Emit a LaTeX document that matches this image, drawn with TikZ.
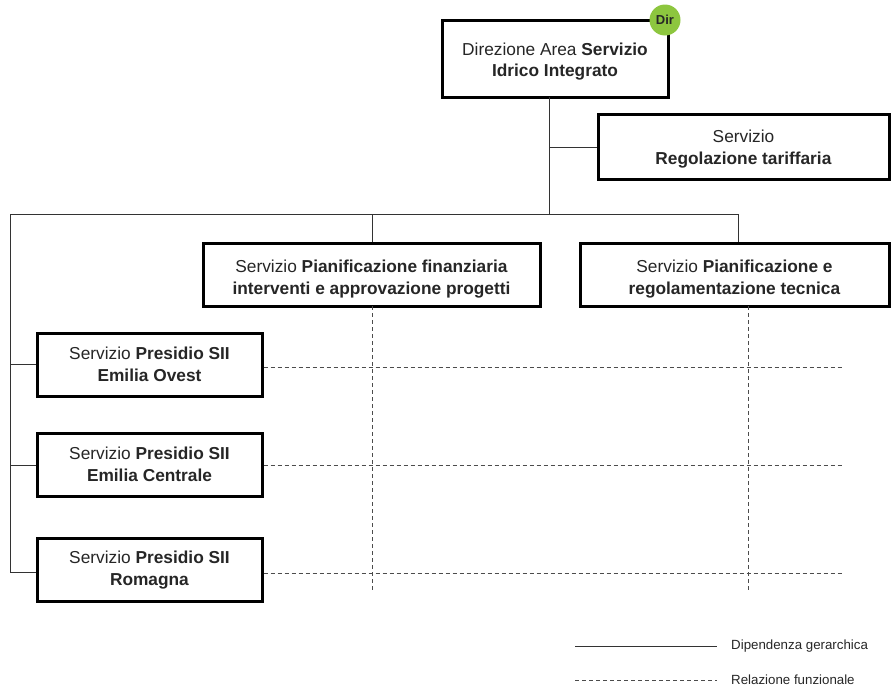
\documentclass[tikz,border=0pt]{standalone}
\usepackage{fontspec}
\setmainfont{Liberation Sans}
\definecolor{dirgreen}{RGB}{141,198,63}
\newcommand{\dn}[1]{\rule{0pt}{#1}}
\begin{document}
\begin{tikzpicture}[x=1pt,y=-1pt,
  box/.style={draw=black,line width=3pt,fill=white,align=center,font=\fontsize{17.3}{21.5}\selectfont,text=black!85,inner sep=0pt},
  hier/.style={draw=black!80,line width=1pt},
  func/.style={draw=black!70,line width=1pt,dash pattern=on 4pt off 3pt},
  legtext/.style={anchor=west,font=\fontsize{13.3}{15}\selectfont,text=black!85,inner sep=0pt}]
\useasboundingbox (0,0) rectangle (892,691);
% boxes
\node[box,minimum width=226pt,minimum height=77pt] (dir) at (555,58.5) {\dn{18.5pt}Direzione Area \textbf{Servizio}\\\textbf{Idrico Integrato}};
\node[box,minimum width=291pt,minimum height=65pt] (reg) at (743.5,146.5) {\dn{17.5pt}Servizio\\\textbf{Regolazione tariffaria}};
\node[box,minimum width=337pt,minimum height=63pt] (fin) at (371.5,274.5) {\dn{21.5pt}Servizio \textbf{Pianificazione finanziaria}\\\textbf{interventi e approvazione progetti}};
\node[box,minimum width=309pt,minimum height=63pt] (tec) at (734.5,274.5) {\dn{21.5pt}Servizio \textbf{Pianificazione e}\\\textbf{regolamentazione tecnica}};
\node[box,minimum width=225pt,minimum height=63pt] (ove) at (149.5,364.5) {Servizio \textbf{Presidio SII}\\\textbf{Emilia Ovest}};
\node[box,minimum width=225pt,minimum height=63pt] (cen) at (149.5,464.5) {Servizio \textbf{Presidio SII}\\\textbf{Emilia Centrale}};
\node[box,minimum width=225pt,minimum height=63pt] (rom) at (149.5,570) {Servizio \textbf{Presidio SII}\\\textbf{Romagna}};
% Dir badge
\node[circle,fill=dirgreen,minimum size=31pt,inner sep=0pt,text=black!85,font=\fontsize{13}{15}\selectfont\bfseries] (badge) at (665,20) {Dir};
% coordinates
\coordinate (t1) at (549,97);
\coordinate (t2) at (549,147);
\coordinate (t3) at (549,214);
\coordinate (l0) at (10,214);
\coordinate (lo) at (10,364);
\coordinate (lc) at (10,465);
\coordinate (lr) at (10,572);
\coordinate (f0) at (372,214);
\coordinate (g0) at (738,214);
% hierarchy
\draw[hier] (t1) -- (t3);
\draw[hier] (t2) -- (reg.west |- t2);
\draw[hier] (l0) -- (g0);
\draw[hier] (f0) -- (f0 |- fin.north);
\draw[hier] (g0) -- (g0 |- tec.north);
\draw[hier] (l0) -- (lr);
\draw[hier] (lo) -- (ove.west |- lo);
\draw[hier] (lc) -- (cen.west |- lc);
\draw[hier] (lr) -- (rom.west |- lr);
% functional
\coordinate (d1) at (372,590);
\coordinate (d2) at (748,590);
\draw[func] (372,306) -- (d1);
\draw[func] (748,306) -- (d2);
\coordinate (e1) at (843,367);
\coordinate (e2) at (843,465);
\coordinate (e3) at (843,573);
\draw[func] (ove.east |- e1) -- (e1);
\draw[func] (cen.east |- e2) -- (e2);
\draw[func] (rom.east |- e3) -- (e3);
% legend
\coordinate (la) at (575,646);
\coordinate (lb) at (717,646);
\coordinate (lc2) at (575,680);
\coordinate (ld) at (717,680);
\draw[hier] (la) -- (lb);
\draw[func] (lc2) -- (ld);
\node[legtext] (lt1) at (731,646) {Dipendenza gerarchica};
\node[legtext] (lt2) at (731,680) {Relazione funzionale};
\end{tikzpicture}
\end{document}
